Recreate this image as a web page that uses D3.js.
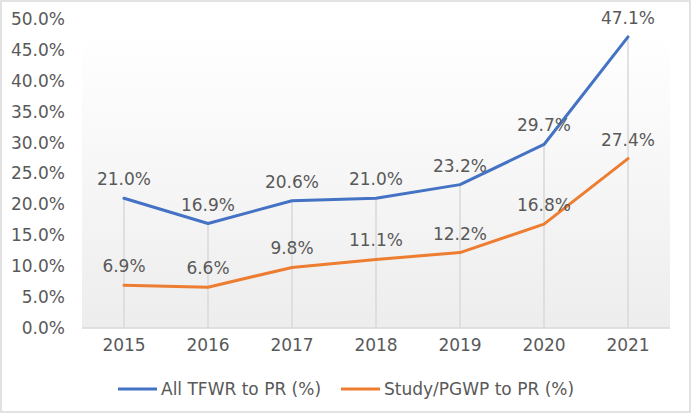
<!DOCTYPE html>
<html><head><meta charset="utf-8">
<script src="https://cdn.jsdelivr.net/npm/d3@7"></script>
<style>body{margin:0;background:#fff}svg{display:block;font-family:"DejaVu Sans",sans-serif}</style>
</head><body><svg id="c" width="692" height="414"></svg>
<script>
const years = ["2015","2016","2017","2018","2019","2020","2021"];
const tfwr = [21.0,16.9,20.6,21.0,23.2,29.7,47.1];
const study = [6.9,6.6,9.8,11.1,12.2,16.8,27.4];
const yTicks = [0,5,10,15,20,25,30,35,40,45,50];
const seriesNames = ["All TFWR to PR (%)","Study/PGWP to PR (%)"];
const colors = ["#4472C4","#ED7D31"];

const svg = d3.select("#c");
const L=82,R=670,T=19,B=328;
const x = d3.scaleBand().domain(years).range([L,R]);
const y = d3.scaleLinear().domain([0,50]).range([B,T]);
const cx = d => x(d)+x.bandwidth()/2;

svg.append("rect").attr("x",1).attr("y",1).attr("width",689).attr("height",411)
  .attr("fill","#fff").attr("stroke","#d9d9d9").attr("stroke-width",1.5);

const defs = svg.append("defs");
const g = defs.append("linearGradient").attr("id","bg").attr("x1",0).attr("y1",0).attr("x2",0).attr("y2",1);
g.append("stop").attr("offset","0%").attr("stop-color","#ffffff");
g.append("stop").attr("offset","100%").attr("stop-color","#ededed");
svg.append("rect").attr("x",L).attr("y",34).attr("width",R-L).attr("height",B-34).attr("fill","url(#bg)");

// drop lines
svg.append("g").selectAll("line").data(years).join("line")
  .attr("x1",d=>cx(d)).attr("x2",d=>cx(d))
  .attr("y1",(d,i)=>y(Math.max(tfwr[i],study[i]))).attr("y2",B)
  .attr("stroke","#d9d9d9").attr("stroke-width",1.5);
svg.append("line").attr("x1",L).attr("x2",R).attr("y1",B).attr("y2",B).attr("stroke","#d9d9d9").attr("stroke-width",1.5);

// y axis labels
const ya = svg.append("g").attr("transform",`translate(${L},0)`)
  .call(d3.axisLeft(y).tickValues(yTicks).tickFormat(d=>d.toFixed(1)+"%").tickSize(0).tickPadding(17));
ya.select(".domain").remove();
ya.selectAll("text").attr("font-size",17).attr("fill","#595959").attr("font-family","DejaVu Sans");

const xa = svg.append("g").attr("transform",`translate(0,${B})`)
  .call(d3.axisBottom(x).tickSize(0).tickPadding(11));
xa.select(".domain").remove();
xa.selectAll("text").attr("font-size",17).attr("fill","#595959").attr("font-family","DejaVu Sans");

const line = d3.line().x((d,i)=>cx(years[i])).y(d=>y(d));
[tfwr,study].forEach((s,k)=>{
  svg.append("path").datum(s).attr("d",line).attr("fill","none")
    .attr("stroke",colors[k]).attr("stroke-width",3).attr("stroke-linejoin","round").attr("stroke-linecap","round");
});
[tfwr,study].forEach((s,k)=>{
  svg.append("g").selectAll("text").data(s).join("text")
    .attr("x",(d,i)=>cx(years[i])).attr("y",d=>y(d)-13)
    .attr("text-anchor","middle").attr("font-size",17).attr("fill","#595959")
    .text(d=>d.toFixed(1)+"%");
});

// legend
const leg = [{x1:118,tx:161},{x1:341,tx:384}];
seriesNames.forEach((n,k)=>{
  svg.append("line").attr("x1",leg[k].x1).attr("x2",leg[k].x1+39).attr("y1",389).attr("y2",389)
    .attr("stroke",colors[k]).attr("stroke-width",3);
  svg.append("text").attr("x",leg[k].tx).attr("y",389).attr("dy","0.35em")
    .attr("font-size",17).attr("fill","#595959").text(n);
});
</script></body></html>
